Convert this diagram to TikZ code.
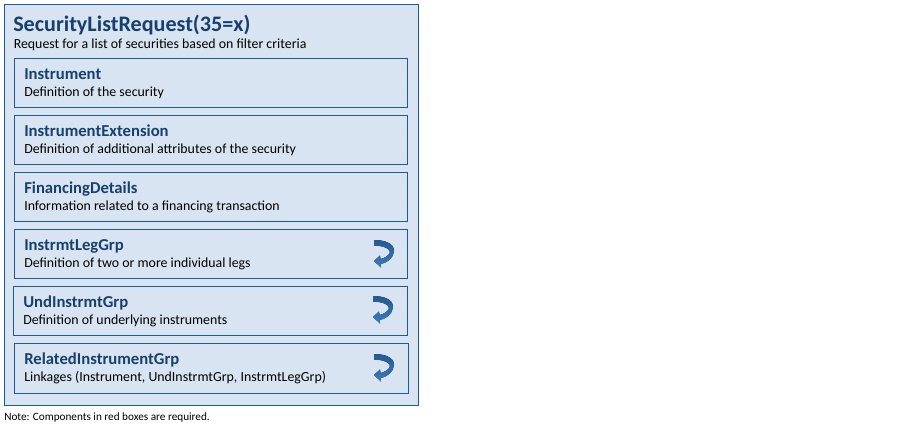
\documentclass[tikz,border=0pt]{standalone}
\usepackage{fontspec}
\setmainfont{Carlito}
\definecolor{boxfill}{HTML}{D9E4F2}
\definecolor{boxline}{HTML}{1F5A93}
\definecolor{headtext}{HTML}{17406D}
\definecolor{arrowtop}{HTML}{235A94}
\definecolor{arrowlow}{HTML}{3A7DBF}
\tikzset{
  outerbox/.style={draw=boxline, fill=boxfill, line width=.9pt},
  innerbox/.style={draw=boxline, fill=boxfill, line width=.8pt},
  headlabel/.style={anchor=base west, inner sep=0pt, text=headtext, font=\fontsize{12.5}{14}\selectfont\bfseries},
  bodylabel/.style={anchor=base west, inner sep=0pt, text=black, font=\fontsize{10.4}{12}\selectfont},
  looparrow/.pic={
    \fill[top color=arrowtop, bottom color=arrowlow, draw=none]
      (0,0) .. controls (8,0) and (20,2) .. (20,11)
      .. controls (20,18) and (12,23.5) .. (6.5,24) -- (7,27.5)
      -- (0,21) -- (6,15.5) -- (6.5,19)
      .. controls (10,18.5) and (16,15) .. (16,12)
      .. controls (16,8) and (7,5.5) .. (0,5.5) -- cycle;
  }
}
\begin{document}
\begin{tikzpicture}[x=.75pt, y=-.75pt]
    \useasboundingbox (0,0) rectangle (920,425);
    \node[outerbox, rectangle, minimum width=414.5*.75pt, minimum height=401.5*.75pt, inner sep=0pt, anchor=north west] (outer) at (3.5,3.5) {};
    \node[anchor=base west, inner sep=0pt, text=headtext, font=\fontsize{16.6}{19}\selectfont\bfseries] (title) at (13,31) {SecurityListRequest(35=x)};
    \node[bodylabel] (subtitle) at (13.5,48) {Request for a list of securities based on filter criteria};
    % component boxes
    \foreach \name/\xa/\ya/\xb/\yb/\head/\body in {
      instrument/14.5/58.5/407.5/107.5/Instrument/Definition of the security,
      extension/14.5/115.5/407.5/164.5/InstrumentExtension/Definition of additional attributes of the security,
      financing/14.5/172.5/407.5/221.5/FinancingDetails/Information related to a financing transaction,
      leggrp/14.5/229.5/407.5/278.5/InstrmtLegGrp/Definition of two or more individual legs,
      undgrp/13.5/286.5/407.5/335.5/UndInstrmtGrp/Definition of underlying instruments,
      relgrp/14.5/343.5/408.5/393.5/RelatedInstrumentGrp/{Linkages (Instrument, UndInstrmtGrp, InstrmtLegGrp)}} {
      \draw[innerbox] (\xa,\ya) rectangle (\xb,\yb);
      \node[headlabel] (\name-head) at (\xa+9.5,\ya+21) {\head};
      \node[bodylabel] (\name-body) at (\xa+9.5,\ya+37.8) {\body};
    }
    \pic at (374,240) {looparrow};
    \pic at (373,296) {looparrow};
    \pic at (374,354) {looparrow};
    \node[anchor=base west, inner sep=0pt, font=\fontsize{8.4}{10}\selectfont] (note) at (4,420) {Note: Components in red boxes are required.};
\end{tikzpicture}
\end{document}
